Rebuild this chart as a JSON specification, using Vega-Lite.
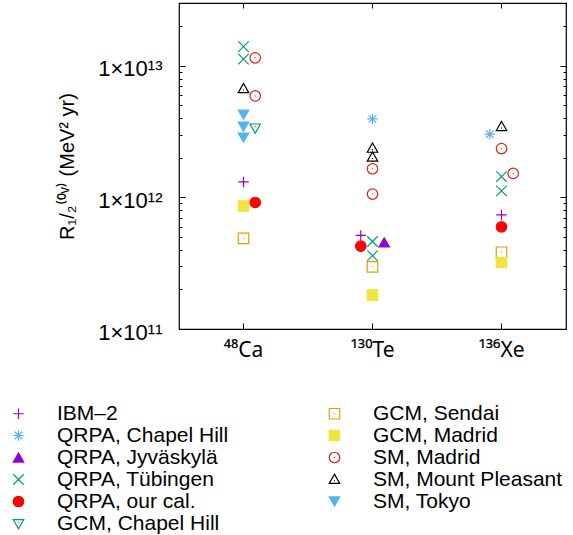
{
  "$schema": "https://vega.github.io/schema/vega-lite/v6.json",
  "width": 387,
  "height": 326,
  "autosize": {"type": "none"},
  "padding": {"left": 179, "top": 3, "right": 7, "bottom": 206},
  "config": {
    "font": "Liberation Sans",
    "view": {"stroke": "#000", "strokeWidth": 1.2},
    "axis": {"domain": false, "grid": false, "tickColor": "#000", "labelColor": "#000", "titleColor": "#000", "labelFont": "Liberation Sans", "titleFont": "Liberation Sans"}
  },
  "data": {"values": [
    {"nucleus": "⁴⁸Ca", "series": "QRPA, Tübingen", "side": "center", "value": 1.40e13},
    {"nucleus": "⁴⁸Ca", "series": "QRPA, Tübingen", "side": "center", "value": 1.125e13},
    {"nucleus": "⁴⁸Ca", "series": "SM, Madrid", "side": "right", "value": 1.15e13},
    {"nucleus": "⁴⁸Ca", "series": "SM, Madrid", "side": "right", "value": 5.9e12},
    {"nucleus": "⁴⁸Ca", "series": "SM, Mount Pleasant", "side": "center", "value": 6.7e12},
    {"nucleus": "⁴⁸Ca", "series": "SM, Tokyo", "side": "center", "value": 4.25e12},
    {"nucleus": "⁴⁸Ca", "series": "SM, Tokyo", "side": "center", "value": 3.45e12},
    {"nucleus": "⁴⁸Ca", "series": "SM, Tokyo", "side": "center", "value": 2.85e12},
    {"nucleus": "⁴⁸Ca", "series": "GCM, Chapel Hill", "side": "right", "value": 3.37e12},
    {"nucleus": "⁴⁸Ca", "series": "IBM–2", "side": "center", "value": 1.31e12},
    {"nucleus": "⁴⁸Ca", "series": "GCM, Madrid", "side": "center", "value": 8.6e11},
    {"nucleus": "⁴⁸Ca", "series": "QRPA, our cal.", "side": "right", "value": 9.15e11},
    {"nucleus": "⁴⁸Ca", "series": "GCM, Sendai", "side": "center", "value": 4.88e11},
    {"nucleus": "¹³⁰Te", "series": "QRPA, Chapel Hill", "side": "center", "value": 3.95e12},
    {"nucleus": "¹³⁰Te", "series": "SM, Mount Pleasant", "side": "center", "value": 2.36e12},
    {"nucleus": "¹³⁰Te", "series": "SM, Mount Pleasant", "side": "center", "value": 2.02e12},
    {"nucleus": "¹³⁰Te", "series": "SM, Madrid", "side": "center", "value": 1.65e12},
    {"nucleus": "¹³⁰Te", "series": "SM, Madrid", "side": "center", "value": 1.06e12},
    {"nucleus": "¹³⁰Te", "series": "IBM–2", "side": "left", "value": 5.14e11},
    {"nucleus": "¹³⁰Te", "series": "QRPA, our cal.", "side": "left", "value": 4.26e11},
    {"nucleus": "¹³⁰Te", "series": "QRPA, Tübingen", "side": "center", "value": 4.62e11},
    {"nucleus": "¹³⁰Te", "series": "QRPA, Tübingen", "side": "center", "value": 3.61e11},
    {"nucleus": "¹³⁰Te", "series": "QRPA, Jyväskylä", "side": "right", "value": 4.55e11},
    {"nucleus": "¹³⁰Te", "series": "GCM, Sendai", "side": "center", "value": 2.97e11},
    {"nucleus": "¹³⁰Te", "series": "GCM, Madrid", "side": "center", "value": 1.81e11},
    {"nucleus": "¹³⁶Xe", "series": "QRPA, Chapel Hill", "side": "left", "value": 3.02e12},
    {"nucleus": "¹³⁶Xe", "series": "SM, Mount Pleasant", "side": "center", "value": 3.45e12},
    {"nucleus": "¹³⁶Xe", "series": "SM, Madrid", "side": "center", "value": 2.35e12},
    {"nucleus": "¹³⁶Xe", "series": "SM, Madrid", "side": "right", "value": 1.52e12},
    {"nucleus": "¹³⁶Xe", "series": "QRPA, Tübingen", "side": "center", "value": 1.44e12},
    {"nucleus": "¹³⁶Xe", "series": "QRPA, Tübingen", "side": "center", "value": 1.12e12},
    {"nucleus": "¹³⁶Xe", "series": "IBM–2", "side": "center", "value": 7.36e11},
    {"nucleus": "¹³⁶Xe", "series": "QRPA, our cal.", "side": "center", "value": 5.97e11},
    {"nucleus": "¹³⁶Xe", "series": "GCM, Sendai", "side": "center", "value": 3.83e11},
    {"nucleus": "¹³⁶Xe", "series": "GCM, Madrid", "side": "center", "value": 3.2e11}
  ]},
  "resolve": {"axis": {"x": "independent", "y": "independent"}},
  "layer": [
    {
      "mark": {"type": "point", "opacity": 1, "strokeWidth": 1.2, "size": 110},
      "encoding": {
        "x": {"field": "nucleus", "type": "nominal", "sort": ["⁴⁸Ca", "¹³⁰Te", "¹³⁶Xe"],
          "scale": {"type": "band", "paddingInner": 0, "paddingOuter": 0},
          "axis": {"orient": "bottom", "title": null, "labelAngle": 0, "labelFontSize": 21, "labelFont": "Noto Sans", "tickSize": -6, "labelPadding": 16}},
        "xOffset": {"field": "side", "type": "nominal",
          "scale": {"domain": ["s1", "s2", "s3", "s4", "left", "center", "right", "s5", "s6", "s7", "s8"], "paddingInner": 0, "paddingOuter": 0.5}},
        "y": {"field": "value", "type": "quantitative",
          "scale": {"type": "log", "domain": [1e11, 3e13], "nice": false, "zero": false},
          "axis": {"orient": "left", "values": [1e11, 1e12, 1e13], "labelExpr": "datum.value < 5e11 ? '1×10¹¹' : datum.value < 5e12 ? '1×10¹²' : '1×10¹³'",
            "labelFontSize": 22, "labelFlush": false, "labelOverlap": false, "tickSize": -6, "labelPadding": 23, "labelOffset": 3,
            "title": "R₁/₂⁽⁰ᵛ⁾ (MeV² yr)", "titleFontSize": 20, "titleFontWeight": "normal", "titlePadding": 20}},
        "shape": {"field": "series", "type": "nominal",
          "scale": {
            "domain": ["IBM–2", "QRPA, Chapel Hill", "QRPA, Jyväskylä", "QRPA, Tübingen", "QRPA, our cal.", "GCM, Chapel Hill", "GCM, Sendai", "GCM, Madrid", "SM, Madrid", "SM, Mount Pleasant", "SM, Tokyo"],
            "range": [
              "M-1,0L1,0M0,-1L0,1",
              "M-1,0L1,0M0,-1L0,1M-0.72,-0.72L0.72,0.72M-0.72,0.72L0.72,-0.72",
              "triangle-up",
              "M-1,-1L1,1M-1,1L1,-1",
              "circle",
              "M-1,-0.75L1,-0.75L0,1Z M0,-0.35L0,-0.15",
              "M-1,-1L1,-1L1,1L-1,1Z M0,-0.1L0,0.1",
              "square",
              "M1,0A1,1,0,1,1,-1,0A1,1,0,1,1,1,0Z M0,-0.1L0,0.1",
              "M-1,0.75L1,0.75L0,-1Z M0,0.15L0,0.35",
              "triangle-down"
            ]},
          "legend": {"orient": "none", "legendX": -171, "legendY": 400, "columns": 2, "direction": "vertical", "title": null,
            "labelFontSize": 21, "labelLimit": 300, "labelOffset": 28, "rowPadding": 0, "columnPadding": 95,
            "symbolSize": 110, "symbolStrokeWidth": 1.2, "padding": 0, "labelColor": "#000", "labelFont": "Liberation Sans"}},
        "stroke": {"field": "series", "type": "nominal",
          "scale": {
            "domain": ["IBM–2", "QRPA, Chapel Hill", "QRPA, Jyväskylä", "QRPA, Tübingen", "QRPA, our cal.", "GCM, Chapel Hill", "GCM, Sendai", "GCM, Madrid", "SM, Madrid", "SM, Mount Pleasant", "SM, Tokyo"],
            "range": ["#9400d3", "#56b4e9", "#9400d3", "#009e73", "#ff0000", "#009e73", "#e69f00", "#f0e442", "#e51e10", "#000000", "#56b4e9"]}},
        "fill": {"field": "series", "type": "nominal",
          "scale": {
            "domain": ["IBM–2", "QRPA, Chapel Hill", "QRPA, Jyväskylä", "QRPA, Tübingen", "QRPA, our cal.", "GCM, Chapel Hill", "GCM, Sendai", "GCM, Madrid", "SM, Madrid", "SM, Mount Pleasant", "SM, Tokyo"],
            "range": ["transparent", "transparent", "#9400d3", "transparent", "#ff0000", "transparent", "transparent", "#f0e442", "transparent", "transparent", "#56b4e9"]}}
      }
    },
    {
      "mark": {"type": "point", "opacity": 0},
      "encoding": {
        "x": {"field": "nucleus", "type": "nominal", "sort": ["⁴⁸Ca", "¹³⁰Te", "¹³⁶Xe"],
          "axis": {"orient": "top", "title": null, "labels": false, "tickSize": -5}},
        "y": {"field": "value", "type": "quantitative",
          "axis": {"orient": "right", "values": [1e11, 1e12, 1e13], "labels": false, "title": null, "tickSize": -6}}
      }
    },
    {
      "mark": {"type": "point", "opacity": 0},
      "encoding": {
        "y": {"field": "value", "type": "quantitative",
          "axis": {"orient": "left", "values": [2e11, 3e11, 4e11, 5e11, 6e11, 7e11, 8e11, 9e11, 2e12, 3e12, 4e12, 5e12, 6e12, 7e12, 8e12, 9e12, 2e13, 3e13], "labels": false, "title": null, "tickSize": -3}}
      }
    },
    {
      "mark": {"type": "point", "opacity": 0},
      "encoding": {
        "y": {"field": "value", "type": "quantitative",
          "axis": {"orient": "right", "values": [2e11, 3e11, 4e11, 5e11, 6e11, 7e11, 8e11, 9e11, 2e12, 3e12, 4e12, 5e12, 6e12, 7e12, 8e12, 9e12, 2e13, 3e13], "labels": false, "title": null, "tickSize": -3}}
      }
    }
  ]
}
